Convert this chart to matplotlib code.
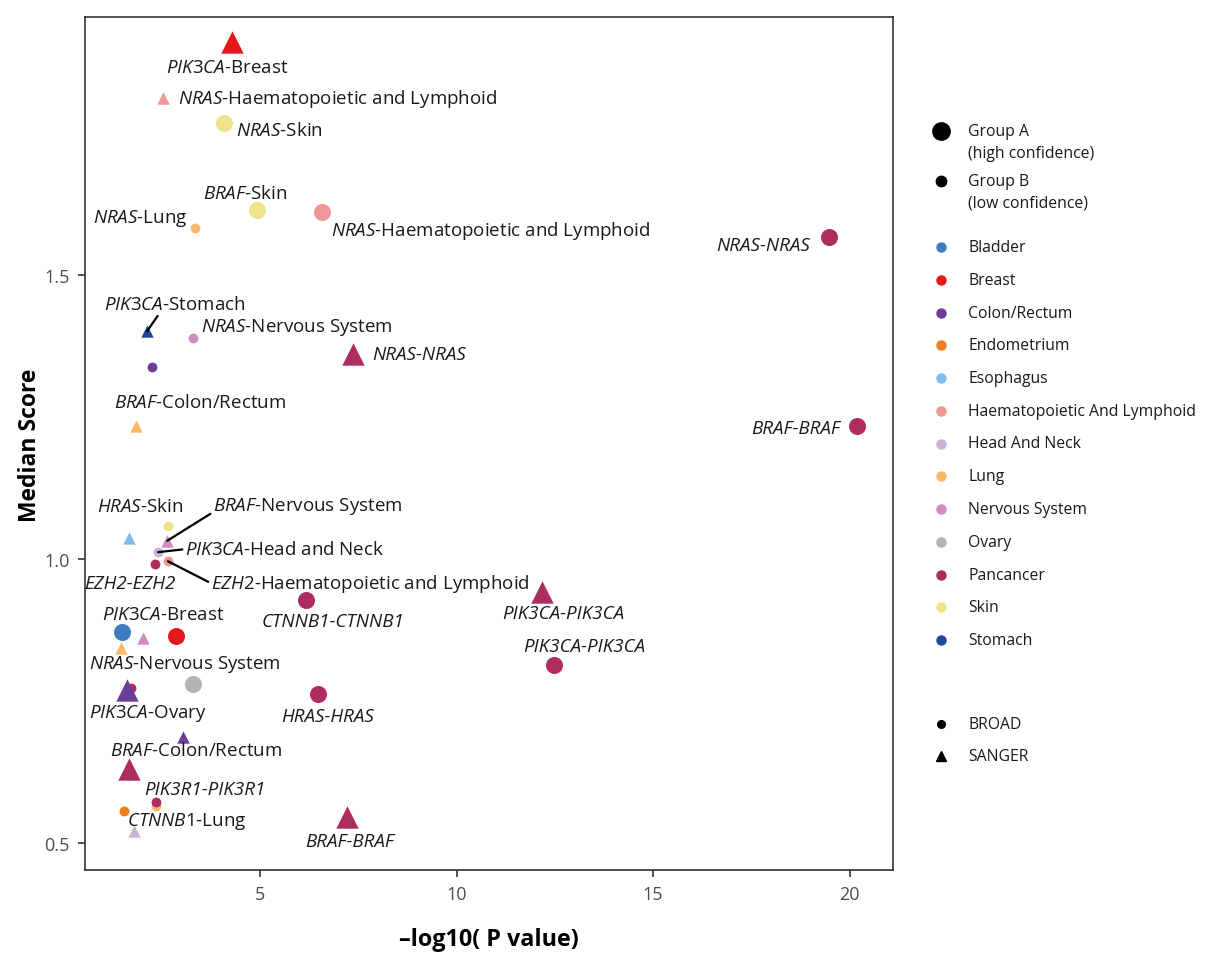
import matplotlib
matplotlib.use("Agg")
import matplotlib.pyplot as plt
from matplotlib.lines import Line2D

FONT = "Open Sans"
plt.rcParams['font.family'] = [FONT, 'DejaVu Sans']
plt.rcParams['mathtext.fontset'] = 'custom'
plt.rcParams['mathtext.rm'] = FONT
plt.rcParams['mathtext.it'] = FONT + ':italic'
plt.rcParams['mathtext.bf'] = FONT + ':bold'

# ---------------- data ----------------
tissues = ["Bladder", "Breast", "Colon/Rectum", "Endometrium", "Esophagus",
           "Haematopoietic And Lymphoid", "Head And Neck", "Lung",
           "Nervous System", "Ovary", "Pancancer", "Skin", "Stomach"]
tissue_colors = ["#3E7CC0", "#E3191C", "#6A3D9A", "#EE7D1E", "#7EBDEA",
                 "#F19696", "#C8B3D9", "#F9B969", "#D18CC3", "#B3B3B3",
                 "#AF2C5E", "#EEE38A", "#22479A"]

neglog_p = [4.29, 2.53, 4.09, 4.92, 6.58, 3.35, 19.47, 2.13, 3.30, 2.26,
            7.37, 1.85, 20.18, 1.67, 2.66, 2.64, 2.41, 2.33, 2.66, 6.17,
            12.17, 1.49, 2.03, 2.87, 1.47, 12.48, 1.72, 1.61, 3.30, 6.48,
            3.04, 1.67, 2.36, 2.36, 1.54, 1.80, 7.21]
median_score = [1.910, 1.812, 1.768, 1.614, 1.611, 1.583, 1.567, 1.401, 1.389, 1.338,
                1.361, 1.234, 1.234, 1.037, 1.058, 1.032, 1.012, 0.991, 0.996, 0.928,
                0.942, 0.872, 0.861, 0.864, 0.843, 0.813, 0.772, 0.769, 0.780, 0.762,
                0.687, 0.630, 0.566, 0.572, 0.556, 0.521, 0.546]
point_tissue = ["Breast", "Haematopoietic And Lymphoid", "Skin", "Skin",
                "Haematopoietic And Lymphoid", "Lung", "Pancancer", "Stomach",
                "Nervous System", "Colon/Rectum", "Pancancer", "Lung", "Pancancer",
                "Esophagus", "Skin", "Nervous System", "Head And Neck", "Pancancer",
                "Haematopoietic And Lymphoid", "Pancancer", "Pancancer", "Bladder",
                "Nervous System", "Breast", "Lung", "Pancancer", "Pancancer",
                "Colon/Rectum", "Ovary", "Pancancer", "Colon/Rectum", "Pancancer",
                "Lung", "Pancancer", "Endometrium", "Head And Neck", "Pancancer"]
point_platform = ["SANGER", "SANGER", "BROAD", "BROAD", "BROAD", "BROAD", "BROAD",
                  "SANGER", "BROAD", "BROAD", "SANGER", "SANGER", "BROAD", "SANGER",
                  "BROAD", "SANGER", "BROAD", "BROAD", "BROAD", "BROAD", "SANGER",
                  "BROAD", "SANGER", "BROAD", "SANGER", "BROAD", "BROAD", "SANGER",
                  "BROAD", "BROAD", "SANGER", "SANGER", "BROAD", "BROAD", "BROAD",
                  "SANGER", "SANGER"]
point_group = ["A", "B", "A", "A", "A", "B", "A", "B", "B", "B",
               "A", "B", "A", "B", "B", "B", "B", "B", "B", "A",
               "A", "A", "B", "A", "B", "A", "B", "A", "A", "A",
               "B", "A", "B", "B", "B", "B", "A"]

# labels: (gene part italic, rest regular) anchored to a point index
label_text = [("PIK3CA", "-Breast"), ("NRAS", "-Haematopoietic and Lymphoid"),
              ("NRAS", "-Skin"), ("BRAF", "-Skin"),
              ("NRAS", "-Haematopoietic and Lymphoid"), ("NRAS", "-Lung"),
              ("NRAS-NRAS", ""), ("PIK3CA", "-Stomach"), ("NRAS", "-Nervous System"),
              ("NRAS-NRAS", ""), ("BRAF", "-Colon/Rectum"), ("BRAF-BRAF", ""),
              ("HRAS", "-Skin"), ("BRAF", "-Nervous System"),
              ("PIK3CA", "-Head and Neck"), ("EZH2", "-Haematopoietic and Lymphoid"),
              ("EZH2-EZH2", ""), ("CTNNB1-CTNNB1", ""), ("PIK3CA-PIK3CA", ""),
              ("PIK3CA", "-Breast"), ("PIK3CA-PIK3CA", ""), ("NRAS", "-Nervous System"),
              ("PIK3CA", "-Ovary"), ("HRAS-HRAS", ""), ("BRAF", "-Colon/Rectum"),
              ("PIK3R1-PIK3R1", ""), ("CTNNB1", "-Lung"), ("BRAF-BRAF", "")]
label_anchor = [0, 1, 2, 3, 4, 5, 6, 7, 8, 10, 11, 12, 13, 15, 16, 18, 17, 19, 20,
                21, 25, 24, 27, 29, 30, 33, 35, 36]

# label placement (pixel offsets, alignment, leader line)
label_offset = [(-5, -25, 'center'), (15, 0, 'left'), (12, -7, 'left'), (-12, 17, 'center'),
                (9, -18, 'left'), (-8, 10, 'right'), (-19, -8, 'right'), (28, 27, 'center'),
                (8, 11, 'left'), (19, 0, 'left'), (64, 24, 'center'), (-17, -2, 'right'),
                (11, 32, 'center'), (46, 35, 'left'), (27, 3, 'left'), (43, -22, 'left'),
                (-25, -19, 'center'), (27, -21, 'center'), (21, -21, 'center'),
                (41, 18, 'center'), (30, 19, 'center'), (64, -15, 'center'),
                (21, -22, 'center'), (9, -22, 'center'), (13, -13, 'center'),
                (49, 13, 'center'), (53, 11, 'center'), (3, -24, 'center')]
leader = {7: (0.39, 0.0), 13: (0.0, 0.2), 14: (0.0, 0.5), 15: (0.0, 0.5)}

# ---------------- figure ----------------
fig = plt.figure(figsize=(12.08, 9.54), dpi=100)
ax = fig.add_axes([85 / 1208, 1 - 871 / 954, (893 - 85) / 1208, (871 - 18) / 954])

color_of = dict(zip(tissues, tissue_colors))
size_map = {("BROAD", "A"): 150, ("BROAD", "B"): 50,
            ("SANGER", "A"): 260, ("SANGER", "B"): 80}
marker_map = {"BROAD": "o", "SANGER": "^"}

for xv, yv, t, p, g in zip(neglog_p, median_score, point_tissue, point_platform, point_group):
    ax.scatter([xv], [yv], s=size_map[(p, g)], marker=marker_map[p],
               color=color_of[t], linewidths=0, zorder=3)

FS = 13.5
for i, ((gene, rest), a, (dx, dy, ha)) in enumerate(zip(label_text, label_anchor, label_offset)):
    if rest:
        s = r"$\it{" + gene.replace("-", "{-}") + "}$" + rest
    else:
        s = gene
    kw = {}
    if i in leader:
        kw['arrowprops'] = dict(arrowstyle='-', color='black', lw=1.6,
                                shrinkA=0, shrinkB=0, relpos=leader[i])
    ax.annotate(s, xy=(neglog_p[a], median_score[a]), xytext=(dx, dy),
                textcoords='offset pixels', ha=ha, va='center', fontsize=FS,
                style='italic' if not rest else 'normal', color='#1a1a1a',
                zorder=4, **kw)

ax.set_xlim(0.55, 21.1)
ax.set_ylim(0.4525, 1.954)
ax.set_xticks([5, 10, 15, 20])
ax.set_yticks([0.5, 1.0, 1.5])
ax.set_xticklabels(["5", "10", "15", "20"])
ax.set_yticklabels(["0.5", "1.0", "1.5"])
ax.tick_params(length=5, width=1.2, color='#333333', labelcolor='#4D4D4D',
               labelsize=13, pad=6)
for sp in ax.spines.values():
    sp.set_color('#333333')
    sp.set_linewidth(1.2)

fig.text(489 / 1208, 1 - 940 / 954, "\u2013log10( P value)", ha='center', va='center',
         fontsize=16.8, fontweight='bold')
fig.text(30 / 1208, 1 - 445 / 954, "Median Score", ha='center', va='center',
         rotation=90, fontsize=16.5, fontweight='bold')

# ---------------- legend ----------------
def fx(px):
    return px / 1208

def fy(py):
    return 1 - py / 954

LFS = 11.3
mk_x, tx_x = 941, 968
fig.add_artist(Line2D([fx(mk_x)], [fy(132)], marker='o', ms=12.5, color='black',
                      linestyle='none', transform=fig.transFigure))
fig.text(fx(tx_x), fy(132), "Group A", va='center', fontsize=LFS, color='#1a1a1a')
fig.text(fx(tx_x), fy(154), "(high confidence)", va='center', fontsize=LFS, color='#1a1a1a')
fig.add_artist(Line2D([fx(mk_x)], [fy(182)], marker='o', ms=7.5, color='black',
                      linestyle='none', transform=fig.transFigure))
fig.text(fx(tx_x), fy(182), "Group B", va='center', fontsize=LFS, color='#1a1a1a')
fig.text(fx(tx_x), fy(204), "(low confidence)", va='center', fontsize=LFS, color='#1a1a1a')

for k, (t, c) in enumerate(zip(tissues, tissue_colors)):
    yy = 248 + k * 32.75
    fig.add_artist(Line2D([fx(mk_x)], [fy(yy)], marker='o', ms=6.5, color=c,
                          linestyle='none', transform=fig.transFigure))
    fig.text(fx(tx_x), fy(yy), t, va='center', fontsize=LFS, color='#1a1a1a')

for k, (lab, m, ms) in enumerate([("BROAD", 'o', 5.5), ("SANGER", '^', 7)]):
    yy = 725 + k * 32
    fig.add_artist(Line2D([fx(mk_x)], [fy(yy)], marker=m, ms=ms, color='black',
                          linestyle='none', transform=fig.transFigure))
    fig.text(fx(tx_x), fy(yy), lab, va='center', fontsize=LFS, color='#1a1a1a')

fig.savefig("out.png", dpi=100, facecolor='white')
